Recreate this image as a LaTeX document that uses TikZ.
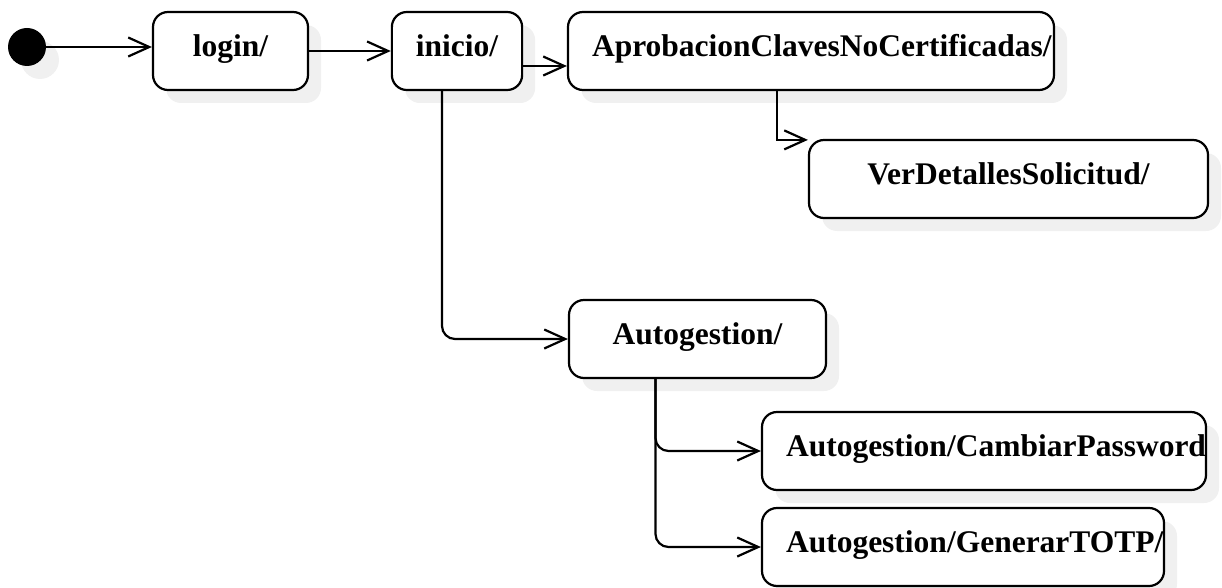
\documentclass[tikz,border=0pt]{standalone}
\usepackage{fontspec}
\setmainfont{Liberation Serif}
\usetikzlibrary{arrows.meta,shadows}
\hyphenpenalty=10000

\begin{document}
\begin{tikzpicture}[
			x=1pt, y=-1pt,
			shade/.style={drop shadow={shadow xshift=13pt, shadow yshift=-13pt, fill=black!6, opacity=1, draw=none}},
			init/.style={circle, fill=black, minimum size=38pt, inner sep=0pt, shade},
			state/.style={draw, rounded corners=15pt, fill=white, line width=2.2pt, shade,
				minimum width=#1, minimum height=78pt, inner xsep=24pt, inner ysep=0pt,
				text height=22pt, text depth=11pt,
				font={\fontsize{31.5pt}{36pt}\selectfont\bfseries}},
			state/.default=1pt,
			wide/.style={text width=#1, align=left},
			trans/.style={line width=2.2pt, -{Straight Barb[length=21pt, width=19pt]}},
		]
		\useasboundingbox (0,0) rectangle (1222,588);

		\node[init] (start) at (27,47) {};
		\node[state=155pt] (login) at (230.5,51) {login/};
		\node[state=128pt] (inicio) at (457,51) {inicio/};
		\node[state, wide=438pt] (aprob) at (811,51) {AprobacionClavesNoCertificadas/};
		\node[state=399pt] (detalles) at (1008.5,179) {VerDetallesSolicitud/};
		\node[state=257pt] (autog) at (697.5,339) {Autogestion/};
		\node[state, wide=396pt] (password) at (984,451) {Autogestion/CambiarPassword};
		\node[state, wide=354pt] (totp) at (963,547) {Autogestion/GenerarTOTP/};

		\draw[trans] (start) -- (start -| login.west);
		\draw[trans] (login) -- (inicio);
		\draw[trans] ([yshift=-15pt]inicio.east) -- ([yshift=-15pt]aprob.west);
		\draw[trans] ([xshift=-34pt]aprob.south) |- ([yshift=-1pt]detalles.north west);
		\draw[trans, rounded corners=13pt] ([xshift=-15pt]inicio.south) |- (autog.west);
		\draw[trans, rounded corners=13pt] ([xshift=-42pt]autog.south) |- (password.west);
		\draw[trans, rounded corners=13pt] ([xshift=-42pt]autog.south) |- (totp.west);
		\end{tikzpicture}
\end{document}
